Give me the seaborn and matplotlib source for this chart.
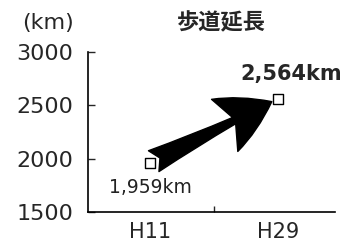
import matplotlib
matplotlib.use("Agg")
import matplotlib.pyplot as plt
import seaborn as sns

# data
years = ["H11", "H29"]
length_km = [1959, 2564]
value_labels = ["1,959km", "2,564km"]
y_ticks = [1500, 2000, 2500, 3000]

sns.set_style("white")
plt.rcParams['font.family'] = ['DejaVu Sans', 'Noto Sans CJK JP']

fig = plt.figure(figsize=(3.45, 2.47), dpi=100)
ax = fig.add_axes([88 / 345, 1 - 212 / 247, 247 / 345, 160 / 247])

sns.scatterplot(x=years, y=length_km, marker="s", s=45, color="white",
                edgecolor="black", linewidth=1.0, zorder=4, ax=ax)

# big fat arrow from first to second point
ax.annotate("", xy=(1, length_km[1]), xytext=(0, length_km[0]),
            arrowprops=dict(arrowstyle="fancy,head_length=0.95,head_width=1.05,tail_width=0.42",
                            mutation_scale=40, color="black", shrinkA=3, shrinkB=5),
            zorder=3)

ax.set_xlim(-0.484, 1.445)
ax.set_ylim(1500, 3000)
ax.set_yticks(y_ticks)
ax.set_xticks([0, 1])
ax.set_xticks([0.5], minor=True)
ax.tick_params(axis="y", direction="in", length=5, width=1, pad=10.5, labelsize=16, left=True)
ax.tick_params(axis="x", which="major", length=0, pad=7, labelsize=15)
ax.tick_params(axis="x", which="minor", direction="in", length=4, width=1, bottom=True)
ax.set_xlabel("")
ax.set_ylabel("")

for side in ["top", "right"]:
    ax.spines[side].set_visible(False)
for side in ["left", "bottom"]:
    ax.spines[side].set_color("black")
    ax.spines[side].set_linewidth(1.2)

# value labels
ax.text(1.1, 2790, value_labels[1], ha="center", va="center", fontsize=15,
        fontweight="bold")
ax.text(0.0, 1730, value_labels[0], ha="center", va="center", fontsize=13.5,
        color="#222222")

fig.text(221 / 345, 1 - 23 / 247, "歩道延長", ha="center", va="center",
         fontsize=16, fontweight="bold", family=["Noto Sans CJK JP"])
fig.text(48 / 345, 1 - 23 / 247, "(km)", ha="center", va="center", fontsize=16)

fig.savefig("out.png", dpi=100)
